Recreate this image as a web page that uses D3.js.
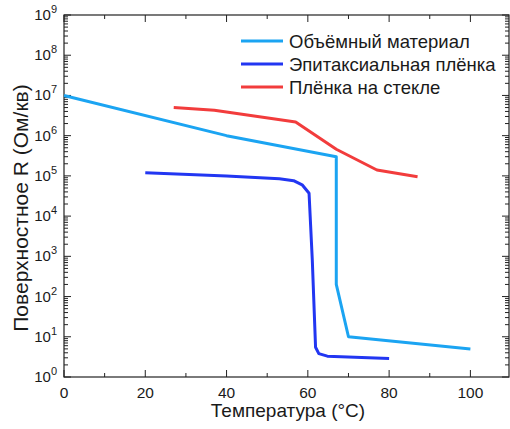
<!DOCTYPE html>
<html>
<head>
<meta charset="utf-8">
<script src="https://cdn.jsdelivr.net/npm/d3@7"></script>
<style>
  html, body { margin: 0; padding: 0; background: #fff; }
  svg text { font-family: "Liberation Sans", Arial, sans-serif; fill: #1a1a1a; }
</style>
</head>
<body>
<svg id="chart" width="510" height="429"></svg>
<script>
// Sheet resistance vs temperature for three sample types
const seriesNames = ["Объёмный материал", "Эпитаксиальная плёнка", "Плёнка на стекле"];
const seriesColors = ["#1ba4f2", "#2236f2", "#f23c3c"];

const bulkT = [0, 40, 67, 67, 70, 100];
const bulkR = [1e7, 1e6, 3e5, 2e2, 10, 5];

const epiT = [20, 40, 53, 56.5, 58.6, 60.3, 61.1, 61.9, 62.7, 64.8, 80];
const epiR = [1.2e5, 1e5, 8.5e4, 7.6e4, 6e4, 3.7e4, 8e2, 5.5, 3.8, 3.3, 2.9];

const glassT = [27, 37, 57, 67, 77, 87];
const glassR = [5e6, 4.3e6, 2.2e6, 4.6e5, 1.4e5, 9.5e4];

const xTicks = [0, 20, 40, 60, 80, 100];
const yExponents = [0, 1, 2, 3, 4, 5, 6, 7, 8, 9];

const svg = d3.select("#chart");
const margin = { left: 64, top: 15, right: 1, bottom: 52 };
const W = 510, H = 429;
const x0 = margin.left, x1 = W - margin.right;
const y0 = H - margin.bottom, y1 = margin.top;

const x = d3.scaleLinear().domain([0, 109.5]).range([x0, x1]);
const y = d3.scaleLog().domain([1, 1e9]).range([y0, y1]);

// Minor ticks
const xMinor = d3.range(10, 110, 20);
const yMinor = [];
for (let e = 0; e < 9; e++) for (let m = 2; m <= 9; m++) yMinor.push(m * Math.pow(10, e));

const ticks = svg.append("g").attr("stroke", "#222").attr("stroke-width", 1);
// Bottom and top ticks (pointing inward)
xTicks.forEach(v => {
  ticks.append("line").attr("x1", x(v)).attr("x2", x(v)).attr("y1", y0).attr("y2", y0 - 7);
  ticks.append("line").attr("x1", x(v)).attr("x2", x(v)).attr("y1", y1).attr("y2", y1 + 7);
});
xMinor.forEach(v => {
  ticks.append("line").attr("x1", x(v)).attr("x2", x(v)).attr("y1", y0).attr("y2", y0 - 4);
  ticks.append("line").attr("x1", x(v)).attr("x2", x(v)).attr("y1", y1).attr("y2", y1 + 4);
});
// Left and right ticks
yExponents.forEach(e => {
  const v = Math.pow(10, e);
  ticks.append("line").attr("x1", x0).attr("x2", x0 + 7).attr("y1", y(v)).attr("y2", y(v));
  ticks.append("line").attr("x1", x1).attr("x2", x1 - 7).attr("y1", y(v)).attr("y2", y(v));
});
yMinor.forEach(v => {
  ticks.append("line").attr("x1", x0).attr("x2", x0 + 4).attr("y1", y(v)).attr("y2", y(v));
  ticks.append("line").attr("x1", x1).attr("x2", x1 - 4).attr("y1", y(v)).attr("y2", y(v));
});

// Frame
svg.append("rect")
  .attr("x", x0).attr("y", y1)
  .attr("width", x1 - x0).attr("height", y0 - y1)
  .attr("fill", "none").attr("stroke", "#222").attr("stroke-width", 1.2);

// Tick labels
svg.append("g").selectAll("text").data(xTicks).join("text")
  .attr("x", d => x(d)).attr("y", y0 + 21)
  .attr("text-anchor", "middle").attr("font-size", 15.5)
  .text(d => d);

const yl = svg.append("g").selectAll("text").data(yExponents).join("text")
  .attr("x", x0 - 7).attr("y", d => y(Math.pow(10, d)) + 5)
  .attr("text-anchor", "end").attr("font-size", 15);
yl.append("tspan").text("10");
yl.append("tspan").attr("dy", -7).attr("font-size", 11).text(d => d);

// Axis titles
svg.append("text")
  .attr("x", 288).attr("y", 417)
  .attr("text-anchor", "middle").attr("font-size", 19)
  .text("Температура (°C)");
svg.append("text")
  .attr("transform", "translate(28,208) rotate(-90)")
  .attr("text-anchor", "middle").attr("font-size", 21)
  .text("Поверхностное R (Ом/кв)");

// Data lines
const line = d3.line().x(d => x(d[0])).y(d => y(d[1]));
const series = [
  d3.zip(bulkT, bulkR),
  d3.zip(epiT, epiR),
  d3.zip(glassT, glassR)
];
series.forEach((pts, i) => {
  svg.append("path")
    .attr("d", line(pts))
    .attr("fill", "none")
    .attr("stroke", seriesColors[i])
    .attr("stroke-width", 3)
    .attr("stroke-linejoin", "round")
    .attr("stroke-linecap", "butt");
});

// Legend
const legend = svg.append("g");
seriesNames.forEach((name, i) => {
  const ly = 41 + i * 23;
  legend.append("line")
    .attr("x1", 241).attr("x2", 283).attr("y1", ly).attr("y2", ly)
    .attr("stroke", seriesColors[i]).attr("stroke-width", 3);
  legend.append("text")
    .attr("x", 289).attr("y", ly + 6.5)
    .attr("font-size", 18.5)
    .text(name);
});
</script>
</body>
</html>
